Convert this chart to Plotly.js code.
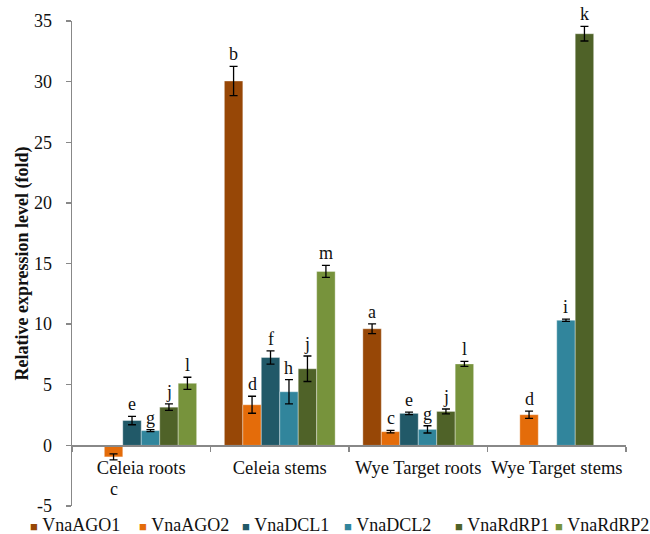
<!DOCTYPE html>
<html>
<head>
<meta charset="utf-8">
<script src="https://cdn.plot.ly/plotly-3.0.1.min.js"></script>
<style>html,body{margin:0;padding:0;background:#fff;}#chart{width:650px;height:534px;}</style>
</head>
<body>
<div id="chart"></div>
<script>
// ---- data ----
const categories = ['Celeia roots', 'Celeia stems', 'Wye Target roots', 'Wye Target stems'];
const seriesNames = ['VnaAGO1', 'VnaAGO2', 'VnaDCL1', 'VnaDCL2', 'VnaRdRP1', 'VnaRdRP2'];

const agO1Values = [null, 30.05, 9.62, null];
const agO1Errors = [null, 1.2, 0.4, null];
const agO1Letters = ['', 'b', 'a', ''];

const agO2Values = [-0.95, 3.35, 1.13, 2.53];
const agO2Errors = [0.25, 0.7, 0.1, 0.3];
const agO2Letters = ['c', 'd', 'c', 'd'];

const dcl1Values = [2.05, 7.25, 2.64, null];
const dcl1Errors = [0.35, 0.55, 0.1, null];
const dcl1Letters = ['e', 'f', 'e', ''];

const dcl2Values = [1.22, 4.42, 1.32, 10.32];
const dcl2Errors = [0.08, 1.0, 0.3, 0.1];
const dcl2Letters = ['g', 'h', 'g', 'i'];

const rdrp1Values = [3.15, 6.32, 2.8, 33.95];
const rdrp1Errors = [0.27, 1.05, 0.2, 0.6];
const rdrp1Letters = ['j', 'j', 'j', 'k'];

const rdrp2Values = [5.12, 14.35, 6.72, null];
const rdrp2Errors = [0.5, 0.5, 0.2, null];
const rdrp2Letters = ['l', 'm', 'l', ''];

const yTickVals = [-5, 0, 5, 10, 15, 20, 25, 30, 35];
const yTickText = ['-5', '0', '5', '10', '15', '20', '25', '30', '35'];

// ---- styling ----
const colors = ['#974706', '#E46C0A', '#215968', '#31859C', '#4F6228', '#77933C'];
const FONT = 'Liberation Serif, Times New Roman, serif';
const W = 650, H = 534;
const margin = {l: 72, r: 24, t: 21, b: 28};
const bargap = 0.2;
const yMin = -5, yMax = 35;
const legendSquareX = [28, 137, 240, 342, 453, 553];
const legendY = 525;

const allValues = [agO1Values, agO2Values, dcl1Values, dcl2Values, rdrp1Values, rdrp2Values];
const allErrors = [agO1Errors, agO2Errors, dcl1Errors, dcl2Errors, rdrp1Errors, rdrp2Errors];
const allLetters = [agO1Letters, agO2Letters, dcl1Letters, dcl2Letters, rdrp1Letters, rdrp2Letters];

const traces = seriesNames.map((name, i) => ({
  type: 'bar',
  name: name,
  x: categories,
  y: allValues[i],
  marker: {color: colors[i], line: {color: 'rgba(255,255,255,0.45)', width: 0.8}},
  error_y: {type: 'data', array: allErrors[i], visible: true, color: '#000', thickness: 1.3, width: 4},
  showlegend: false,
  hoverinfo: 'x+y+name'
}));

const plotW = W - margin.l - margin.r;
const plotH = H - margin.t - margin.b;
const bw = plotW / categories.length * (1 - bargap) / seriesNames.length;

const annotations = [];
seriesNames.forEach((name, i) => {
  categories.forEach((cat, j) => {
    const letter = allLetters[i][j];
    const v = allValues[i][j];
    if (!letter || v === null) return;
    const e = allErrors[i][j] || 0;
    const neg = v < 0;
    annotations.push({
      x: cat, xref: 'x',
      y: neg ? v - e : v + e, yref: 'y',
      xshift: (i - (seriesNames.length - 1) / 2) * bw,
      yshift: neg ? -17 : 0,
      yanchor: neg ? 'top' : 'bottom',
      text: letter, showarrow: false,
      font: {family: FONT, size: 18, color: '#111'}
    });
  });
});

// legend as text entries
seriesNames.forEach((name, i) => {
  annotations.push({
    xref: 'paper', yref: 'paper',
    x: (legendSquareX[i] - margin.l) / plotW,
    y: (H - margin.b - legendY) / plotH,
    xanchor: 'left', yanchor: 'middle',
    showarrow: false,
    text: '<span style="color:' + colors[i] + ';font-size:13px">\u25A0</span>\u00a0' + name,
    font: {family: FONT, size: 18, color: '#111'}
  });
});

const layout = {
  width: W, height: H,
  margin: margin,
  paper_bgcolor: '#fff', plot_bgcolor: '#fff',
  barmode: 'group', bargap: bargap, bargroupgap: 0,
  showlegend: false,
  font: {family: FONT, size: 18, color: '#111'},
  xaxis: {
    type: 'category',
    anchor: 'free',
    position: (0 - yMin) / (yMax - yMin),
    showline: true, linecolor: '#888', linewidth: 1.3,
    ticks: 'outside', tickson: 'boundaries', ticklen: 5, tickcolor: '#888', tickwidth: 1.3,
    ticklabelstandoff: 5,
    tickangle: 0,
    tickfont: {family: FONT, size: 18.5, color: '#111'},
    showgrid: false, zeroline: false,
    fixedrange: true
  },
  yaxis: {
    range: [yMin, yMax],
    tickvals: yTickVals, ticktext: yTickText,
    showline: true, linecolor: '#888', linewidth: 1.3,
    ticks: 'outside', ticklen: 5, tickcolor: '#888', tickwidth: 1.3,
    ticklabelstandoff: 10,
    tickfont: {family: FONT, size: 18, color: '#111'},
    showgrid: false, zeroline: false,
    title: {text: '<b>Relative expression level (fold)</b>', font: {family: FONT, size: 18, color: '#111'}, standoff: 0},
    fixedrange: true
  },
  annotations: annotations
};

Plotly.newPlot('chart', traces, layout, {displayModeBar: false, staticPlot: true});
</script>
</body>
</html>
